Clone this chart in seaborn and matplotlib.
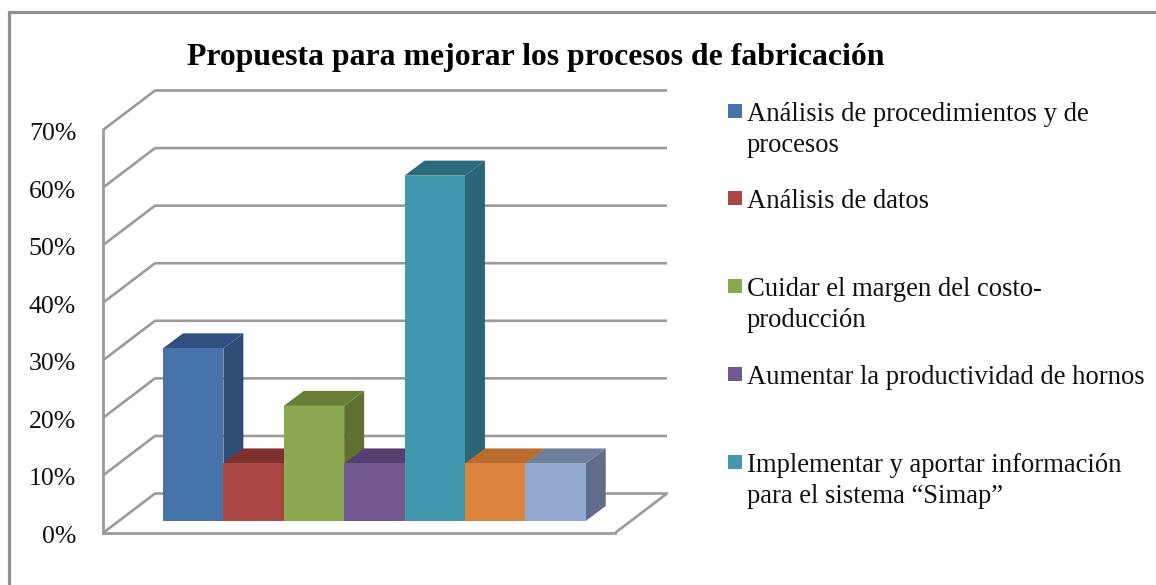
import matplotlib
matplotlib.use("Agg")
import matplotlib.pyplot as plt
from matplotlib.lines import Line2D
from matplotlib.patches import Polygon, Rectangle
from matplotlib.transforms import ScaledTranslation
import seaborn as sns

W, H = 1156, 585
TITLE = "Propuesta para mejorar los procesos de fabricación"
categories = [
    "Análisis de procedimientos y de\nprocesos",
    "Análisis de datos",
    "Cuidar el margen del costo-\nproducción",
    "Aumentar la productividad de hornos",
    "Implementar y aportar información\npara el sistema “Simap”",
    "Serie 6",
    "Serie 7",
]
values = [30, 10, 20, 10, 60, 10, 10]
tick_values = [0, 10, 20, 30, 40, 50, 60, 70]
tick_labels = ["0%", "10%", "20%", "30%", "40%", "50%", "60%", "70%"]
front_colors = ["#4674AA", "#AA4643", "#8BA750", "#71588F", "#4198AF", "#DB843D", "#93A9CF"]
side_colors = ["#2F4C75", "#742F2D", "#5E7230", "#4D3B62", "#2A6677", "#95592A", "#5F6C8A"]
top_colors = ["#2F5080", "#7F2F2D", "#667F35", "#553F6E", "#2C6A7C", "#B96C2C", "#6E7F9C"]
legend_baselines = [121, 208, 296, 384, 472]

GREY = "#9b9b9b"
sns.set_theme(style="white")
plt.rcParams["font.family"] = ["Liberation Serif", "DejaVu Serif"]
fig = plt.figure(figsize=(W / 100, H / 100), dpi=100, facecolor="white")


def axes_px(x0, x1, ytop, ybot):
    return fig.add_axes([x0 / W, 1 - ybot / H, (x1 - x0) / W, (ybot - ytop) / H])


# Outer frame (left and top sides only reach the image edge)
fig.add_artist(Line2D([9 / W, 9 / W, 1], [0, 1 - 12 / H, 1 - 12 / H], color="#8f8f8f", lw=2.3,
                      solid_joinstyle="miter"))

# Front plane with real value axis
ax_wall = axes_px(103, 615, 130, 533)
ax_wall.set_xlim(0, 512)
ax_wall.set_ylim(0, 70)
ax_wall.patch.set_alpha(0)
ax_wall.set_xticks([])
ax_wall.set_yticks(tick_values, tick_labels, fontsize=18.6, color="#111111")
ax_wall.tick_params(axis="y", length=0, pad=19.3)
shift = ScaledTranslation(0, -1.5 / 100, fig.dpi_scale_trans)
for label in ax_wall.get_yticklabels():
    label.set_transform(label.get_transform() + shift)
for side in ("top", "right"):
    ax_wall.spines[side].set_visible(False)
for side in ("left", "bottom"):
    ax_wall.spines[side].set_color(GREY)
    ax_wall.spines[side].set_linewidth(2.0)

# Depth of the back wall, in wall-axis units
depth_x, depth_y = 52, 39.5 / (403 / 70)
for v in tick_values:
    ax_wall.plot([0, depth_x, 512 + depth_x], [v, v + depth_y, v + depth_y],
                 color=GREY, lw=1.9, clip_on=False, solid_capstyle="butt", zorder=1)
ax_wall.plot([512, 512 + depth_x], [0, depth_y], color=GREY, lw=1.9, clip_on=False, zorder=1)

# Bars
ax = axes_px(163, 585.7, 521 - 70 * 5.756, 521)
sns.barplot(x=categories, y=values, hue=categories, order=categories, hue_order=categories,
            palette=front_colors, saturation=1, width=1, legend=False, linewidth=0, ax=ax)
ax.set_xlim(-0.5, 6.5)
ax.set_ylim(0, 70)
ax.patch.set_alpha(0)
ax.axis("off")
for p in ax.patches:
    p.set_zorder(5)

bar_dx, bar_dy = 20 / 60.39, 15 / 5.756
for i, v in enumerate(values):
    r = i + 0.5
    ax.add_patch(Polygon([(r, 0), (r + bar_dx, bar_dy), (r + bar_dx, v + bar_dy), (r, v)],
                         closed=True, facecolor=side_colors[i], edgecolor="none", clip_on=False, zorder=2))
    ax.add_patch(Polygon([(r - 1, v), (r, v), (r + bar_dx, v + bar_dy), (r - 1 + bar_dx, v + bar_dy)],
                         closed=True, facecolor=top_colors[i], edgecolor="none", clip_on=False, zorder=2))

# Title
fig.text(536 / W, 1 - 57 / H, TITLE, ha="center", va="center", fontsize=22.9,
         fontweight="bold", color="black")

# Legend
for lab, col, base in zip(categories[:5], front_colors[:5], legend_baselines):
    fig.add_artist(Rectangle((728 / W, 1 - (base - 3) / H), 14 / W, 14 / H,
                             transform=fig.transFigure, facecolor=col, edgecolor="none"))
    for j, line in enumerate(lab.split("\n")):
        fig.text(747 / W, 1 - (base + 31 * j) / H, line, ha="left", va="baseline",
                 fontsize=19.2, color="#111111")

fig.savefig("out.png", dpi=100)
